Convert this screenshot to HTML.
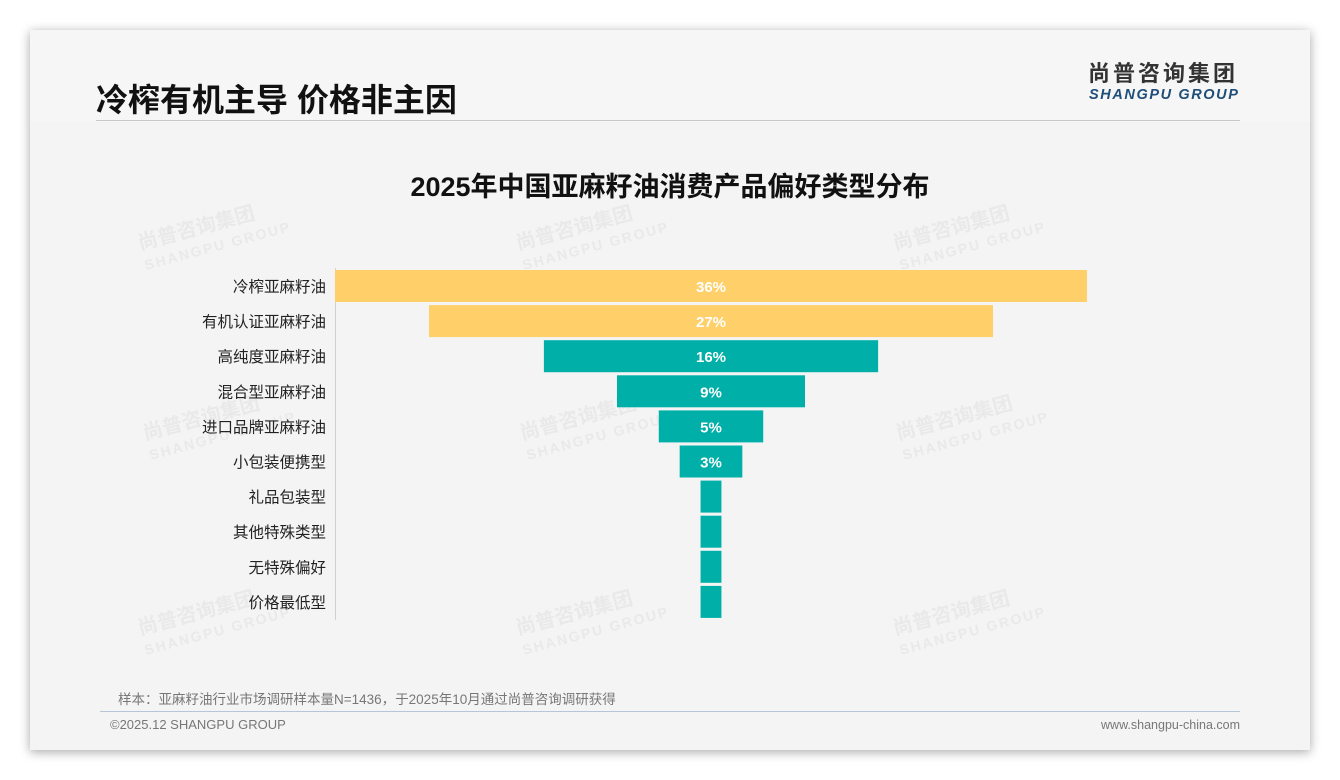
<!DOCTYPE html>
<html><head><meta charset="utf-8"><style>
body{margin:0;width:1340px;height:780px;background:#fff;font-family:"Liberation Sans","Noto Sans CJK SC",sans-serif;position:relative;overflow:hidden}
.card{position:absolute;left:30px;top:30px;width:1280px;height:720px;background:#f4f4f4;box-shadow:0 2px 10px rgba(0,0,0,.35)}
.abs{position:absolute;white-space:nowrap}
</style></head><body>
<div class="card">
  <div class="abs" style="left:0;top:0;width:1280px;height:92px;background:#f6f6f6"></div>
  <div class="abs" style="left:66px;top:45px;font-size:32px;font-weight:bold;color:#111">冷榨有机主导 价格非主因</div>
  <div class="abs" style="left:1058px;top:31px;font-size:22px;line-height:26px;font-weight:bold;color:#333;letter-spacing:3px">尚普咨询集团</div>
  <div class="abs" style="left:1059px;top:57px;font-size:14.5px;line-height:17px;font-weight:bold;font-style:italic;color:#1f4e79;letter-spacing:1.6px">SHANGPU GROUP</div>
  <div class="abs" style="left:66px;top:90px;width:1144px;height:1px;background:#c8c8c8"></div>
  <div class="abs" style="left:70px;top:681px;width:1140px;height:1px;background:#b7c6d6"></div>
  <div class="abs" style="left:88px;top:658px;font-size:13.5px;color:#777">样本：亚麻籽油行业市场调研样本量N=1436，于2025年10月通过尚普咨询调研获得</div>
  <div class="abs" style="left:80px;top:687px;font-size:13px;color:#777">©2025.12 SHANGPU GROUP</div>
  <div class="abs" style="right:70px;top:688px;font-size:12.5px;color:#777">www.shangpu-china.com</div>
</div>
<svg class="abs" style="left:0;top:0" width="1340" height="780">
  <g id="wm" fill="#dcdcdc" opacity="0.45" font-weight="bold"></g>
  <text x="670" y="196" text-anchor="middle" font-size="27" font-weight="bold" fill="#111">2025年中国亚麻籽油消费产品偏好类型分布</text>
  <line x1="335.5" y1="268" x2="335.5" y2="620" stroke="#d0d0d0"/>
  <g id="bars"></g>
</svg>
<script>
const categories=["冷榨亚麻籽油","有机认证亚麻籽油","高纯度亚麻籽油","混合型亚麻籽油","进口品牌亚麻籽油","小包装便携型","礼品包装型","其他特殊类型","无特殊偏好","价格最低型"];
const values=[36,27,16,9,5,3,1,1,1,1];
const labels=["36%","27%","16%","9%","5%","3%","","","",""];
const colors=["#FFD06A","#FFD06A","#00B0A8","#00B0A8","#00B0A8","#00B0A8","#00B0A8","#00B0A8","#00B0A8","#00B0A8"];
const NS="http://www.w3.org/2000/svg";
const cx=711,pxPer=752/36,top0=270,pitch=35.1,bh=32;
const g=document.getElementById('bars');
categories.forEach((c,i)=>{
  const w=values[i]*pxPer,y=top0+i*pitch;
  const r=document.createElementNS(NS,'rect');
  r.setAttribute('x',cx-w/2);r.setAttribute('y',y);r.setAttribute('width',w);r.setAttribute('height',bh);r.setAttribute('fill',colors[i]);
  
  
  g.appendChild(r);
  const t=document.createElementNS(NS,'text');
  t.setAttribute('x',326);t.setAttribute('y',y+bh/2+6);t.setAttribute('text-anchor','end');t.setAttribute('font-size','15.5');t.setAttribute('fill','#222');
  t.textContent=c;
  
  
  g.appendChild(t);
  if(labels[i]){
    const v=document.createElementNS(NS,'text');
    v.setAttribute('x',cx);v.setAttribute('y',y+bh/2+6);v.setAttribute('text-anchor','middle');v.setAttribute('font-size','15');v.setAttribute('font-weight','bold');v.setAttribute('fill','#fff');
    v.textContent=labels[i];
    
    
    g.appendChild(v);
  }
});
const wm=document.getElementById('wm');
[[140,250],[518,250],[895,250],[145,440],[522,440],[898,440],[140,635],[518,635],[895,635]].forEach(p=>{
  const a=document.createElementNS(NS,'text');
  a.setAttribute('transform',`translate(${p[0]},${p[1]}) rotate(-15)`);a.setAttribute('font-size','20');a.textContent='尚普咨询集团';
  
  
  wm.appendChild(a);
  const b=document.createElementNS(NS,'text');
  b.setAttribute('transform',`translate(${p[0]+6},${p[1]+20}) rotate(-15)`);b.setAttribute('font-size','14');b.setAttribute('letter-spacing','2');b.textContent='SHANGPU GROUP';
  
  
  wm.appendChild(b);
});
</script>
</body></html>
